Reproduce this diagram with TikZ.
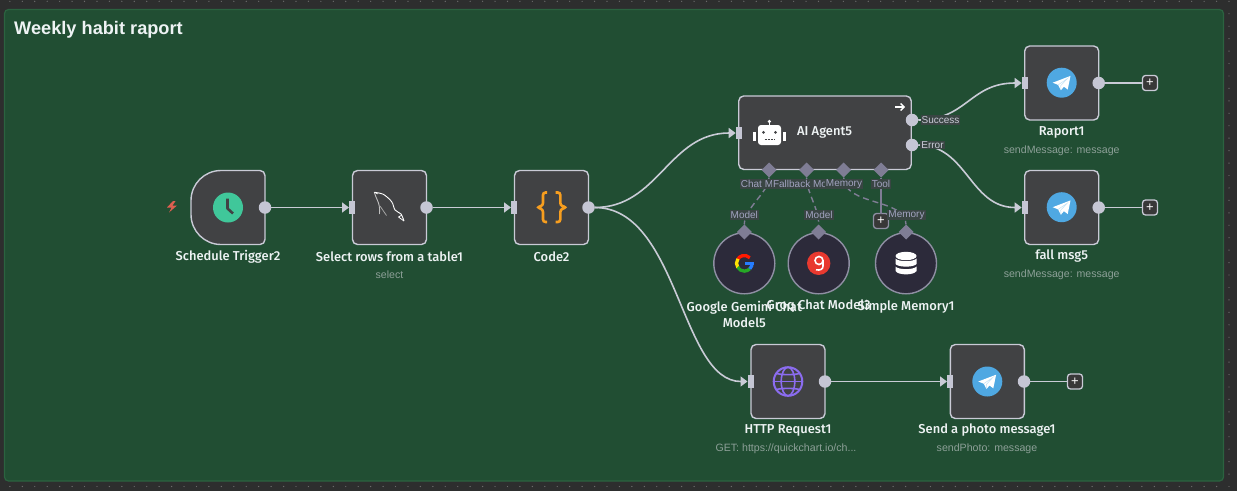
\documentclass[tikz,border=0pt]{standalone}
\usepackage{fontspec}
\setmainfont{Liberation Sans}
\newfontfamily\medfont{Fira Sans Medium}
\newfontfamily\headfont{Liberation Sans Bold}
\usetikzlibrary{shapes.geometric,arrows.meta}
\definecolor{canvas}{HTML}{2D2E2E}
\definecolor{gdot}{HTML}{6A6A6A}
\definecolor{sticky}{HTML}{214E33}
\definecolor{stickyline}{HTML}{2B6340}
\definecolor{boxfill}{HTML}{414244}
\definecolor{boxline}{HTML}{C9CAD6}
\definecolor{portc}{HTML}{C5C6D4}
\definecolor{linec}{HTML}{C9CBD6}
\definecolor{dia}{HTML}{7F7D95}
\definecolor{roundfill}{HTML}{2C2A3A}
\definecolor{roundline}{HTML}{8F8FA3}
\definecolor{lblbg}{HTML}{394543}
\definecolor{lbltxt}{HTML}{A2A3C0}
\definecolor{subtxt}{HTML}{8DA098}
\definecolor{titletxt}{HTML}{EEF3F4}
\definecolor{tgblue}{HTML}{4FA8E2}
\definecolor{clockg}{HTML}{40C79A}
\definecolor{globec}{HTML}{8B6CF0}
\definecolor{bracec}{HTML}{F79E1F}
\definecolor{groqr}{HTML}{E8392F}
\definecolor{boltc}{HTML}{DD5F50}
\tikzset{
  nbox/.style={draw=boxline,fill=boxfill,line width=1.4pt,rounded corners=5pt,minimum width=74pt,minimum height=74pt,inner sep=0pt},
  outport/.style={circle,fill=portc,minimum size=12.5pt,inner sep=0pt,outer sep=0pt},
  inport/.style={fill=portc,minimum width=6pt,minimum height=12.5pt,inner sep=0pt,outer sep=0pt},
  conn/.style={draw=linec,line width=1.6pt},
  flow/.style={conn,-{Triangle[length=7pt,width=10pt]}},
  nlabel/.style={text=titletxt,font=\fontsize{12.9}{16}\selectfont\medfont,inner sep=0pt,align=center},
  nsub/.style={text=subtxt,font=\fontsize{10.6}{12}\selectfont,inner sep=0pt,yshift=-.8pt},
  subconn/.style={diamond,fill=dia,minimum size=15pt,inner sep=0pt,outer sep=0pt},
  roundbox/.style={circle,draw=roundline,fill=roundfill,line width=1.4pt,minimum size=61pt,inner sep=0pt},
  sublink/.style={draw=dia,line width=1.4pt,dash pattern=on 6pt off 4pt},
  solidlink/.style={draw=dia,line width=1.5pt},
  chip/.style={fill=lblbg,text=lbltxt,font=\fontsize{10}{11}\selectfont,inner sep=1pt},
  okchip/.style={fill=lblbg,text=boxline,font=\fontsize{10}{11}\selectfont,inner sep=1pt},
  plusbtn/.style={draw=boxline,fill=black!78,text=white,rounded corners=3pt,line width=1.3pt,minimum size=15pt,inner sep=0pt,outer sep=0pt,font=\fontsize{13}{13}\selectfont},
  tele/.pic={
    \fill[tgblue] (0,0) circle[radius=15pt];
    \fill[white] (8.8,-6.8) -- (-9,0) -- (-3.6,2.2) -- (-0.8,7.5) -- (2.2,4) -- (6,6.8) -- cycle;
    \draw[tgblue!35!white,line width=.5pt] (-3.6,2.2) -- (5.5,-4) -- (-1,3) -- (-0.8,7.3);
  }
}
\begin{document}
\begin{tikzpicture}[x=1pt,y=-1pt]
\useasboundingbox (0,0) rectangle (1237,491);
\fill[canvas] (0,0) rectangle (1237,491);
\foreach \i in {0,...,99} {\foreach \j in {0,...,39} {
  \fill[gdot] ({1229-12.44*\i},{486.5-12.44*\j}) circle[radius=.7pt];
}}
\draw[stickyline,fill=sticky,line width=1.2pt,rounded corners=4pt] (4.5,9.5) rectangle (1223.5,481);
\node[text=titletxt,font=\fontsize{18.2}{22}\selectfont\headfont,anchor=west,inner sep=0pt] (title) at (14,29.3) {Weekly habit raport};

% Trigger
\draw[draw=boxline,fill=boxfill,line width=1.4pt] (221,170.5) -- (260,170.5) arc[start angle=90,end angle=0,radius=5pt] -- (265,239.5) arc[start angle=0,end angle=-90,radius=5pt] -- (221,244.5) arc[start angle=-90,end angle=-180,radius=30pt] -- (191,200.5) arc[start angle=180,end angle=90,radius=30pt] -- cycle;
\fill[boltc] (173,201) -- (167,207.5) -- (171.5,207.5) -- (169,212.5) -- (177,205.5) -- (172.5,205.5) -- (175.5,201) -- cycle;
\fill[clockg] (228,207.5) circle[radius=15pt];
\draw[boxfill,line width=2.6pt,line join=round] (227.5,198.5) -- (227.5,208.5) -- (233,213.5);
\node[outport] (trigout) at (265,207.5) {};
\node[nlabel] (triglbl) at (228,256.5) {Schedule Trigger2};

% MySQL
\node[nbox] (sql) at (389.5,207.5) {};
\draw[white,line width=.9pt,line join=round] plot[smooth] coordinates {(374.3,192.3) (383.3,194.3) (391.7,201.7) (395,210) (401,214) (404,221)};
\draw[white,line width=.8pt] (404,221) -- (398.5,217) -- (402,215);
\draw[white!75!black,line width=.9pt] plot[smooth] coordinates {(374.3,192.3) (376,197) (378.5,203) (379.5,208) (379.5,214)};
\draw[white!65!black,line width=.8pt] (380,206) -- (386.5,215.5);
\draw[white,line width=.6pt] (374.3,192.3) -- (378,194);
\node[inport] (sqlin) at (352,207.5) {};
\node[outport] (sqlout) at (426.5,207.5) {};
\node[nlabel] (sqllbl) at (389.5,256.5) {Select rows from a table1};
\node[nsub] (sqlsub) at (389.5,274) {select};

% Code
\node[nbox] (code) at (551.5,207.5) {};
\draw[bracec,line width=2.6pt,rounded corners=2.5pt] (547,192.5) -- (543,192.5) -- (543,205.5) -- (537,207.3) -- (543,209.5) -- (543,222) -- (547,222);
\draw[bracec,line width=2.6pt,rounded corners=2.5pt] (555.5,192.5) -- (560.3,192.5) -- (560.3,205.5) -- (566.5,207.3) -- (560.3,209.5) -- (560.3,222) -- (555.5,222);
\node[inport] (codein) at (514,207.5) {};
\node[outport] (codeout) at (588.5,207.5) {};
\node[nlabel] (codelbl) at (551.5,256.5) {Code2};

% Agent
\node[nbox,minimum width=172.5pt,minimum height=73.5pt] (agent) at (825,132.7) {};
\node[inport] (agentin) at (738.7,133) {};
\node[outport] (agentok) at (912,120) {};
\node[outport] (agenterr) at (912,145) {};
\draw[white,line width=1.3pt,-{Straight Barb[length=3.5pt,width=7pt]}] (895,107) -- (905,107);
% robot
\fill[white] (769.3,121.5) circle[radius=1.8pt];
\fill[white] (768.5,121.5) rectangle (770.1,126);
\fill[white,rounded corners=3pt] (758,125) rectangle (781,145);
\fill[white] (753.3,132) rectangle (755.8,141);
\fill[white] (783.2,132) rectangle (785.7,141);
\fill[boxfill] (763.5,132.3) circle[radius=1.5pt] (775.5,132.3) circle[radius=1.5pt];
\draw[boxfill,line width=1.3pt,dash pattern=on 2pt off 1.2pt] (764.5,139.5) -- (774.5,139.5);
\node[nlabel,anchor=west] (agentlbl) at (797,132.7) {AI Agent5};

% Sub connectors
\node[subconn] (dchat) at (769,170) {};
\node[subconn] (dfall) at (806.5,170) {};
\node[subconn] (dmem) at (843.7,170) {};
\node[subconn] (dtool) at (881,170) {};

% Round nodes
\node[roundbox] (gem) at (744.3,263.3) {};
\node[roundbox] (groq) at (818.7,263.3) {};
\node[roundbox] (mem) at (906,263.3) {};
\node[subconn] (dgem) at (744.3,232) {};
\node[subconn] (dgroq) at (818.7,232) {};
\node[subconn] (dmemb) at (906,232) {};

\draw[sublink] (dchat) .. controls +(0,22) and +(0,-24) .. (dgem);
\draw[sublink] (dfall) .. controls +(0,22) and +(0,-24) .. (dgroq);
\draw[sublink] (dmem) .. controls +(0,36) and +(0,-34) .. (dmemb);
\node[plusbtn,draw=roundline] (toolplus) at (881,221) {+};
\draw[solidlink] (dtool) -- (toolplus);

% sublink labels
\node[chip] (lchat) at (757,184) {Chat M};
\node[chip] (lfall) at (800,184) {Fallback Mo};
\node[chip] (lmem) at (844,184) {Memory};
\node[chip] (ltool) at (881,184) {Tool};
\node[chip] (lm1) at (744.3,215) {Model};
\node[chip] (lm2) at (819,215) {Model};
\node[chip] (lm3) at (906.5,215) {Memory};

% google
\draw[line width=3.3pt,red!80!orange] (744.3,263.3) ++(45:7.8pt) arc[start angle=45,end angle=150,radius=7.8pt];
\draw[line width=3.3pt,yellow!85!orange] (744.3,263.3) ++(145:7.8pt) arc[start angle=145,end angle=215,radius=7.8pt];
\draw[line width=3.3pt,green!60!black!85!white] (744.3,263.3) ++(210:7.8pt) arc[start angle=210,end angle=315,radius=7.8pt];
\draw[line width=3.3pt,blue!60!cyan!85!white] (744.3,263.3) ++(-45:7.8pt) arc[start angle=-45,end angle=5,radius=7.8pt];
\fill[blue!60!cyan!85!white] (744.8,261.5) rectangle (754,265);
% groq
\fill[groqr] (818.7,263.3) circle[radius=11.7pt];
\draw[white,line width=1.6pt] (819,260.5) circle[radius=4pt];
\draw[white,line width=1.6pt] (823,260.5) -- (823,266) .. controls (823,269.5) and (820,270.5) .. (816,269.8);
% db
\fill[white] (906,256) ellipse[x radius=10.5pt,y radius=4.2pt];
\fill[white] (895.5,258.5) .. controls (898,262) and (914,262) .. (916.5,258.5) -- (916.5,264) .. controls (914,267.5) and (898,267.5) .. (895.5,264) -- cycle;
\fill[white] (895.5,266.5) .. controls (898,270) and (914,270) .. (916.5,266.5) -- (916.5,271) .. controls (914,275.5) and (898,275.5) .. (895.5,271) -- cycle;

\node[nlabel] (gemlbl) at (744.3,314) {Google Gemini Chat\\Model5};
\node[nlabel] (groqlbl) at (818.7,306.5) {Groq Chat Model3};
\node[nlabel] (memlbl) at (906,306.5) {Simple Memory1};

% Telegram nodes
\node[nbox] (rap) at (1061.7,83) {};
\pic at (1061.7,82.7) {tele};
\node[inport] (rapin) at (1024.7,83) {};
\node[outport] (rapout) at (1098.7,83) {};
\node[plusbtn] (rapplus) at (1150,83) {+};
\node[nlabel] (raplbl) at (1061.7,132.5) {Raport1};
\node[nsub] (rapsub) at (1061.7,150) {sendMessage: message};

\node[nbox] (fall) at (1061.7,207.5) {};
\pic at (1061.7,207.2) {tele};
\node[inport] (fallin) at (1024.7,207.5) {};
\node[outport] (fallout) at (1098.7,207.5) {};
\node[plusbtn] (fallplus) at (1150,207.5) {+};
\node[nlabel] (falllbl) at (1061.7,256.5) {fall msg5};
\node[nsub] (fallsub) at (1061.7,274) {sendMessage: message};

% HTTP
\node[nbox] (http) at (788,381.5) {};
\draw[globec,line width=2pt] (788,381.5) circle[radius=14.3pt];
\draw[globec,line width=1.6pt] (788,381.5) ellipse[x radius=6.8pt,y radius=14.3pt];
\draw[globec,line width=1.6pt] (774,381.5) -- (802,381.5);
\draw[globec,line width=1.6pt] (776.5,373.5) .. controls (782,375) and (794,375) .. (799.5,373.5);
\draw[globec,line width=1.6pt] (776.5,389.5) .. controls (782,388) and (794,388) .. (799.5,389.5);
\node[inport] (httpin) at (750.5,381.5) {};
\node[outport] (httpout) at (825,381.5) {};
\node[nlabel] (httplbl) at (788,430.5) {HTTP Request1};
\node[nsub] (httpsub) at (786,448) {GET: https://quickchart.io/ch...};

% Photo
\node[nbox] (photo) at (987.3,381.5) {};
\pic at (987.3,381.5) {tele};
\node[inport] (photoin) at (950,381.5) {};
\node[outport] (photoout) at (1024,381.5) {};
\node[plusbtn] (photoplus) at (1075,381.5) {+};
\node[nlabel] (photolbl) at (987,430.5) {Send a photo message1};
\node[nsub] (photosub) at (987,448) {sendPhoto: message};

% Connectors
\draw[flow] (trigout) -- (sqlin);
\draw[flow] (sqlout) -- (codein);
\draw[flow] (codeout) .. controls +(70,0) and +(-70,0) .. (agentin);
\draw[flow] (codeout) .. controls +(90,0) and +(-70,0) .. (httpin);
\draw[flow] (httpout) -- (photoin);
\draw[flow] (agentok) .. controls +(55,0) and +(-55,0) .. (rapin);
\draw[flow] (agenterr) .. controls +(55,0) and +(-55,0) .. (fallin);
\draw[conn] (rapout) -- (rapplus);
\draw[conn] (fallout) -- (fallplus);
\draw[conn] (photoout) -- (photoplus);
\node[okchip] (lok) at (940.5,120) {Success};
\node[okchip] (lerr) at (932.5,145) {Error};
\end{tikzpicture}
\end{document}
